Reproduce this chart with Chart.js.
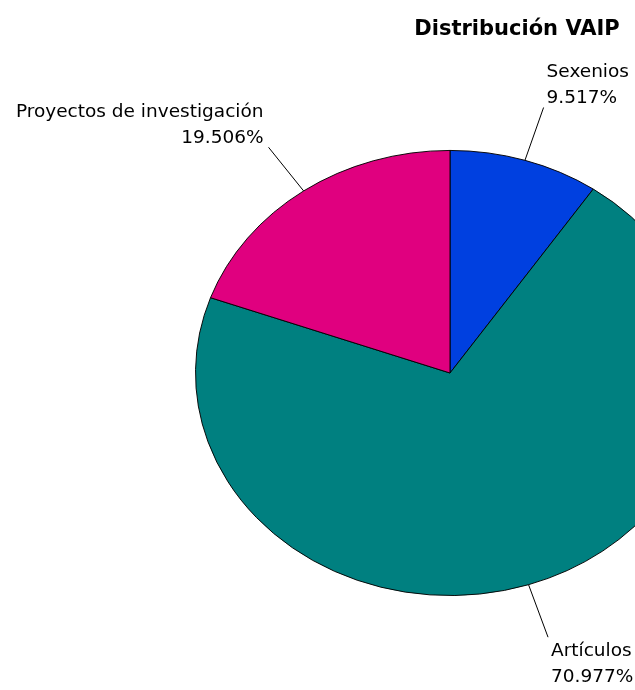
<!DOCTYPE html>
<html>
<head>
<meta charset="utf-8">
<script src="https://cdn.jsdelivr.net/npm/chart.js@4.4.0/dist/chart.umd.min.js"></script>
<style>
  html, body { margin: 0; padding: 0; background: #fff; overflow: hidden; }
  #wrap { width: 900px; height: 690px; }
</style>
</head>
<body>
<div id="wrap"><canvas id="vaip" width="900" height="690"></canvas></div>
<script>
const titulo = 'Distribución VAIP';
const categorias = ['Sexenios', 'Artículos', 'Proyectos de investigación'];
const porcentajes = [9.517, 70.977, 19.506];
const colores = ['#0040e0', '#008080', '#e0007f'];

// la tarta del original es una elipse: aplastamos en vertical
const aspecto = 223 / 255;

const elipse = {
  id: 'elipse',
  beforeDatasetsDraw(chart) {
    const arc = chart.getDatasetMeta(0).data[0];
    const ctx = chart.ctx;
    ctx.save();
    ctx.translate(arc.x, arc.y);
    ctx.scale(1, aspecto);
    ctx.translate(-arc.x, -arc.y);
  },
  afterDatasetsDraw(chart) {
    chart.ctx.restore();
  }
};

const etiquetas = {
  id: 'etiquetas',
  afterDraw(chart) {
    const ctx = chart.ctx;
    const arcs = chart.getDatasetMeta(0).data;
    ctx.save();
    ctx.fillStyle = '#000';
    ctx.strokeStyle = '#000';
    ctx.lineWidth = 1;

    // titulo, descentrado a la derecha como en el original
    ctx.font = 'bold 21px "DejaVu Sans"';
    ctx.textAlign = 'center';
    ctx.textBaseline = 'middle';
    ctx.fillText(titulo, 517, 30);

    ctx.font = '18.5px "DejaVu Sans"';
    arcs.forEach((arc, i) => {
      const a = (arc.startAngle + arc.endAngle) / 2;
      const r = arc.outerRadius;
      const ex = arc.x + r * Math.cos(a);
      const ey = arc.y + r * Math.sin(a) * aspecto;
      let dx = Math.cos(a), dy = Math.sin(a) * aspecto;
      const n = Math.hypot(dx, dy);
      dx /= n; dy /= n;
      const fx = ex + dx * 56, fy = ey + dy * 56;
      ctx.beginPath();
      ctx.moveTo(ex, ey);
      ctx.lineTo(fx, fy);
      ctx.stroke();

      const lineas = [categorias[i], porcentajes[i].toFixed(3) + '%'];
      const izq = fx > arc.x;
      ctx.textAlign = izq ? 'left' : 'right';
      const tx = izq ? fx + 3 : fx - 5;
      const alto = 26;
      if (fy < arc.y) {
        ctx.textBaseline = 'bottom';
        lineas.forEach((t, k) => ctx.fillText(t, tx, fy - (lineas.length - 1 - k) * alto));
      } else {
        ctx.textBaseline = 'top';
        lineas.forEach((t, k) => ctx.fillText(t, tx, fy + 5 + k * alto));
      }
    });
    ctx.restore();
  }
};

new Chart(document.getElementById('vaip'), {
  type: 'pie',
  data: {
    labels: categorias,
    datasets: [{
      data: porcentajes,
      backgroundColor: colores,
      borderColor: '#000',
      borderWidth: 1
    }]
  },
  options: {
    responsive: false,
    devicePixelRatio: 1,
    animation: false,
    layout: { padding: { top: 118, bottom: 62, left: 195, right: 195 } },
    plugins: {
      legend: { display: false },
      tooltip: { enabled: false },
      title: { display: false }
    }
  },
  plugins: [elipse, etiquetas]
});
</script>
</body>
</html>
